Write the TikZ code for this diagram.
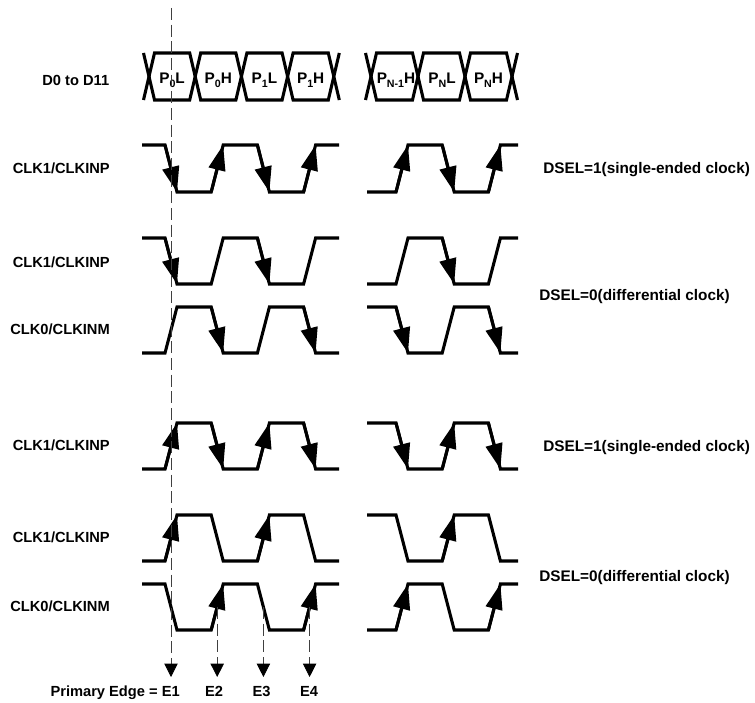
\documentclass[tikz,border=0pt]{standalone}
\usepackage{fontspec}
\setmainfont{Liberation Sans}
\usetikzlibrary{arrows.meta}
\newcommand{\sbs}[1]{\raisebox{-0.5ex}{\fontsize{8}{9}\selectfont #1}}
% waveform starting at level #1 on the left (4 transitions) and at level #2 on the right
\newcommand{\wv}[2]{%
  \draw[wave] (142,#1) -- (165,#1) -- (177,#2) -- (211.2,#2) -- (223.2,#1) -- (257.4,#1) -- (269.4,#2) -- (303.6,#2) -- (315.6,#1) -- (339,#1);
  \draw[wave] (367,#2) -- (396,#2) -- (408,#1) -- (442.2,#1) -- (454.2,#2) -- (488.4,#2) -- (500.4,#1) -- (518,#1);}
% arrow on transition k from level #2 to level #3
\newcommand{\tra}[3]{\draw[tr] ({165+46.2*#1},#2) -- ({177+46.2*#1},#3);}
\tikzset{
  wave/.style={line width=2.3pt, line join=miter},
  tr/.style={line width=2.3pt, -{Triangle[length=19pt,width=12.5pt]}},
  datal/.style={line width=2.3pt, line join=miter},
  guide/.style={line width=0.6pt, black!75, dash pattern=on 9pt off 3.5pt},
  edgearr/.style={guide, -{Triangle[length=10pt,width=10pt,color=black]}},
  lbl/.style={font=\fontsize{11}{13}\selectfont\bfseries, inner sep=0pt},
  rlbl/.style={font=\fontsize{11.5}{13}\selectfont\bfseries, inner sep=0pt, anchor=base west},
  cell/.style={font=\fontsize{11.5}{13}\selectfont\bfseries, inner sep=0pt, anchor=base},
}
\begin{document}
\begin{tikzpicture}[x=0.75pt,y=-0.75pt]
\useasboundingbox (0,0) rectangle (755,702);

% ---- data row ----
\foreach \a/\b in {149/195.2,195.2/241.4,241.4/287.6,287.6/333.8,371/418,418/465,465/512}{
  \draw[datal] (\a,76.5) -- ({\a+5.5},53) -- ({\b-5.5},53) -- (\b,76.5) -- ({\b-5.5},100) -- ({\a+5.5},100) -- cycle;
}
\foreach \c in {149,371}{\draw[datal] ({\c-5.5},53) -- (\c,76.5) -- ({\c-5.5},100);}
\foreach \c in {333.8,512}{\draw[datal] ({\c+5.5},53) -- (\c,76.5) -- ({\c+5.5},100);}
\node[cell] (p0l) at (172.1,83.5) {P\sbs{0}L};
\node[cell] (p0h) at (218.3,83.5) {P\sbs{0}H};
\node[cell] (p1l) at (264.5,83.5) {P\sbs{1}L};
\node[cell] (p1h) at (310.7,83.5) {P\sbs{1}H};
\node[cell] (pn1h) at (396,83.5) {P\sbs{N-1}H};
\node[cell] (pnl) at (442,83.5) {P\sbs{N}L};
\node[cell] (pnh) at (488.5,83.5) {P\sbs{N}H};

% ---- waveforms ----
% row 1: single-ended CLK1, falling first
\wv{145}{192}
\tra{0}{145}{192}\tra{1}{192}{145}\tra{2}{145}{192}\tra{3}{192}{145}
\tra{5}{192}{145}\tra{6}{145}{192}\tra{7}{192}{145}
% row 2: CLK1 differential
\wv{238}{284}
\tra{0}{238}{284}\tra{2}{238}{284}\tra{6}{238}{284}
% row 3: CLK0 differential
\wv{353}{307}
\tra{1}{307}{353}\tra{3}{307}{353}\tra{5}{307}{353}\tra{7}{307}{353}
% row 4: single-ended CLK1, rising first
\wv{469}{423}
\tra{0}{469}{423}\tra{1}{423}{469}\tra{2}{469}{423}\tra{3}{423}{469}
\tra{5}{423}{469}\tra{6}{469}{423}\tra{7}{423}{469}
% row 5: CLK1 differential
\wv{561}{515}
\tra{0}{561}{515}\tra{2}{561}{515}\tra{6}{561}{515}
% row 6: CLK0 differential
\wv{584}{630}
\tra{1}{630}{584}\tra{3}{630}{584}\tra{5}{630}{584}\tra{7}{630}{584}

% ---- labels ----
\node[lbl, anchor=base east] (ld) at (109.5,86) {D0 to D11};
\node[lbl, anchor=base east] (l1) at (110,174) {CLK1/CLKINP};
\node[lbl, anchor=base east] (l2) at (110,267.5) {CLK1/CLKINP};
\node[lbl, anchor=base east] (l3) at (110,334.5) {CLK0/CLKINM};
\node[lbl, anchor=base east] (l4) at (110,450.5) {CLK1/CLKINP};
\node[lbl, anchor=base east] (l5) at (110,542.5) {CLK1/CLKINP};
\node[lbl, anchor=base east] (l6) at (110,611.5) {CLK0/CLKINM};
\node[rlbl] (r1) at (543,174) {DSEL=1(single-ended clock)};
\node[rlbl] (r2) at (539,300.5) {DSEL=0(differential clock)};
\node[rlbl] (r3) at (543,451) {DSEL=1(single-ended clock)};
\node[rlbl] (r4) at (539,581.5) {DSEL=0(differential clock)};

% ---- edges ----
\node[lbl, anchor=base east] (e1) at (180,696) {Primary Edge = E1};
\node[lbl, anchor=base] (e2) at (214,696) {E2};
\node[lbl, anchor=base] (e3) at (261.5,696) {E3};
\node[lbl, anchor=base] (e4) at (309,696) {E4};
\coordinate (e1s) at (171,8);
\coordinate (e2s) at (217.2,607);
\coordinate (e3s) at (263.4,607);
\coordinate (e4s) at (309.6,607);
\coordinate (e1t) at (171,677);
\coordinate (e2t) at (217.2,677);
\coordinate (e3t) at (263.4,677);
\coordinate (e4t) at (309.6,677);
\draw[edgearr] (e1s) -- (e1t);
\draw[edgearr] (e2s) -- (e2t);
\draw[edgearr] (e3s) -- (e3t);
\draw[edgearr] (e4s) -- (e4t);
\end{tikzpicture}
\end{document}
